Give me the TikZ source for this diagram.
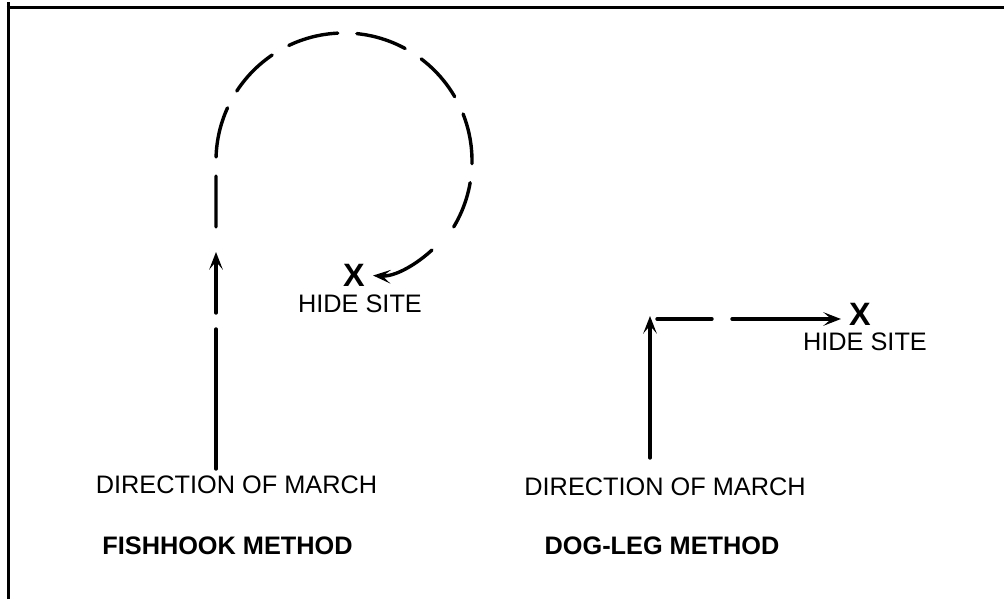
\documentclass[tikz,border=0pt]{standalone}
\usepackage{fontspec}
\setmainfont{Liberation Sans}
\usetikzlibrary{arrows.meta}

\begin{document}
\begin{tikzpicture}[
  x=0.25mm, y=0.25mm,
  trail/.style={line width=0.85mm, line cap=round},
  arr/.style={trail, -{Stealth[length=4.4mm, width=3.4mm, inset=2mm]}},
  hookdash/.style={trail, dash pattern=on 12.7mm off 4.8mm},
  lbl/.style={font=\fontsize{18}{20}\selectfont, inner sep=0pt, anchor=base},
  ttl/.style={lbl, font=\fontsize{18}{20}\selectfont\bfseries},
  site/.style={font=\fontsize{23}{25}\selectfont\bfseries, inner sep=0pt},
  frame/.style={line width=0.75mm},
]
\useasboundingbox (0,0) rectangle (1004,599);
% Frame
\draw[frame] (8,0) -- (8,597);
\draw[frame] (6.5,591) -- (1004,591);
% Fishhook
\coordinate (f0) at (216,130);
\coordinate (f1) at (216,270);
\coordinate (f2) at (216,286);
\coordinate (f3) at (216,347);
\coordinate (f4) at (216,372);
\coordinate (hookend) at (432,349);
\node[site] (xfish) at (354,324) {X};
\node[lbl] (hidefish) at (360,286) {HIDE SITE};
\node[lbl] (dirfish)  at (236.5,106) {DIRECTION OF MARCH};
\node[ttl] (methfish) at (227.5,45) {FISHHOOK METHOD};
\draw[trail] (f0) -- (f1);
\draw[arr] (f2) -- (f3);
\draw[hookdash] (f4) -- ++(0,66) arc[start angle=180, end angle=-31, radius=128];
\draw[arr, shorten >=2mm] (hookend) .. controls (418,336) and (396,322) .. (xfish.east);
% Dog-leg
\coordinate (d0) at (650,141);
\coordinate (d1) at (650,283);
\coordinate (d2) at (657,280);
\coordinate (d3) at (712,280);
\coordinate (d4) at (732,280);
\node[site] (xdog) at (860,285) {X};
\node[lbl] (hidedog) at (865,248) {HIDE SITE};
\node[lbl] (dirdog)  at (665,104) {DIRECTION OF MARCH};
\node[ttl] (methdog) at (662,45) {DOG-LEG METHOD};
\draw[arr] (d0) -- (d1);
\draw[trail] (d2) -- (d3);
\draw[arr, shorten >=2mm] (d4) -- (d4 -| xdog.west);
\end{tikzpicture}
\end{document}
